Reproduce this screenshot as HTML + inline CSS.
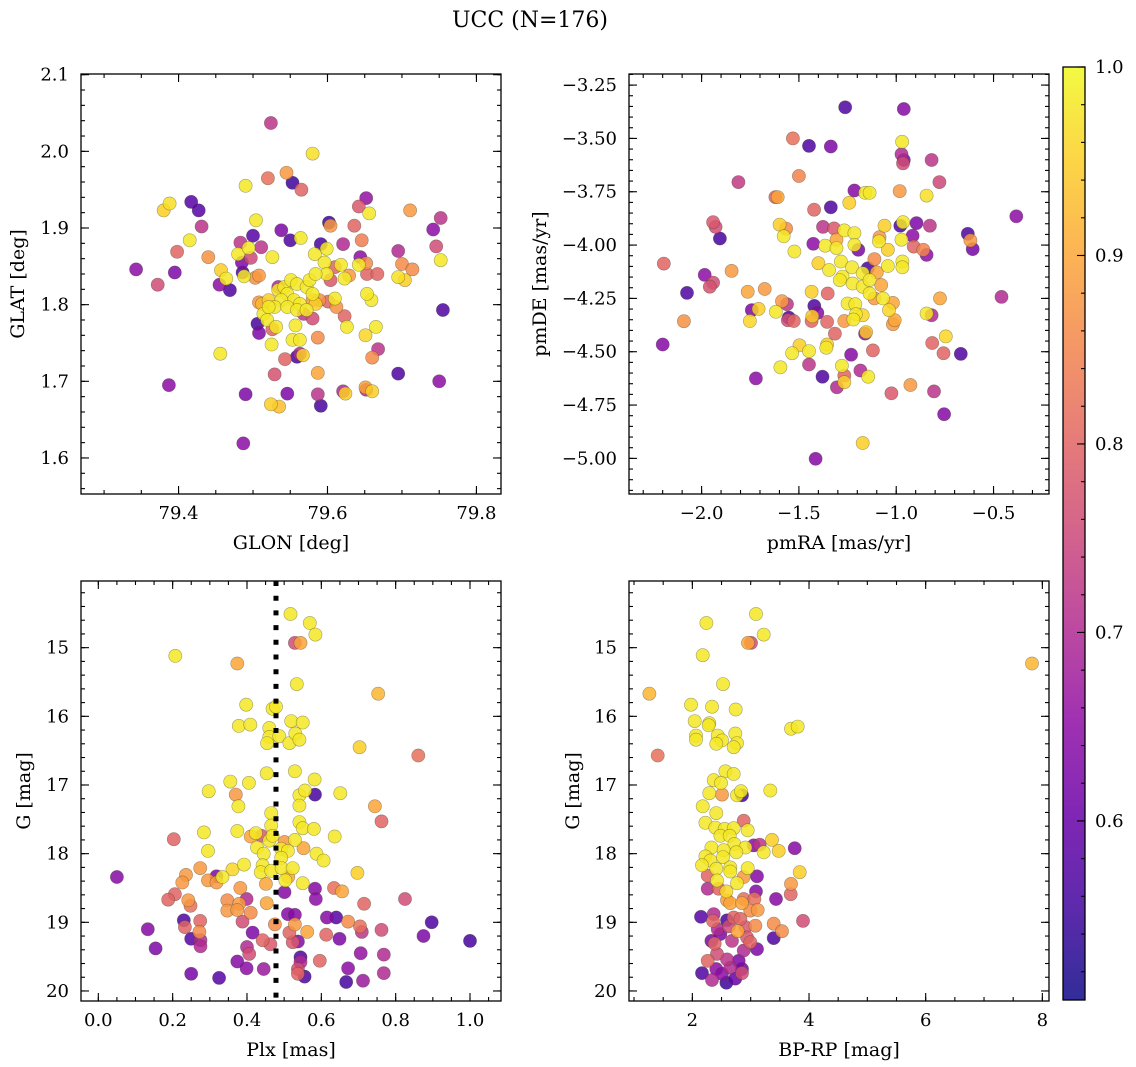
<!DOCTYPE html>
<html><head><meta charset="utf-8"><title>UCC (N=176)</title>
<style>
html,body{margin:0;padding:0;background:#fff;}
svg{display:block;font-family:"DejaVu Serif","Liberation Serif",serif;}
</style></head>
<body>
<svg id="fig" width="1136" height="1067" viewBox="0 0 1136 1067" xmlns="http://www.w3.org/2000/svg">
<text x="530" y="27" text-anchor="middle" font-size="22">UCC (N=176)</text>
</svg>
<script>
// ---------- Panel 1: GLON vs GLAT ----------
const p1Lon = [79.524,79.580,79.520,79.545,79.553,79.565,79.490,79.380,79.388,79.417,79.427,79.431,79.415,79.398,79.343,79.372,79.395,79.440,79.457,79.464,79.455,79.469,79.504,79.500,79.483,79.511,79.480,79.494,79.497,79.526,79.485,79.486,79.488,79.503,79.508,79.538,79.550,79.564,79.602,79.604,79.591,79.599,79.583,79.621,79.652,79.642,79.656,79.636,79.646,79.644,79.642,79.652,79.653,79.667,79.711,79.752,79.742,79.746,79.752,79.695,79.700,79.714,79.695,79.704,79.755,79.596,79.618,79.610,79.599,79.623,79.629,79.604,
79.534,79.542,79.551,79.559,79.546,79.555,79.563,79.538,79.572,79.580,79.584,79.529,79.546,79.559,79.572,79.521,79.512,79.508,79.514,79.521,79.576,79.584,79.580,79.589,79.568,79.580,79.534,
79.610,79.659,79.653,79.601,79.612,79.623,79.626,79.665,79.651,79.668,79.660,79.587,79.557,79.553,79.563,79.506,79.508,79.519,79.526,79.531,79.525,79.559,79.563,79.567,79.543,79.529,79.587,79.456,79.387,79.490,79.546,79.587,79.591,79.524,79.535,79.621,79.624,79.652,79.651,79.660,79.695,79.750,79.487];
const p1Lat = [2.037,1.997,1.965,1.972,1.959,1.950,1.955,1.923,1.932,1.934,1.923,1.902,1.884,1.869,1.846,1.826,1.842,1.862,1.845,1.834,1.826,1.819,1.910,1.890,1.881,1.875,1.866,1.874,1.861,1.862,1.855,1.842,1.837,1.835,1.838,1.897,1.884,1.887,1.907,1.903,1.879,1.873,1.866,1.879,1.939,1.928,1.919,1.903,1.884,1.862,1.852,1.854,1.840,1.840,1.923,1.913,1.898,1.876,1.858,1.870,1.853,1.846,1.836,1.832,1.793,1.855,1.852,1.849,1.840,1.834,1.838,1.832,
1.819,1.823,1.832,1.827,1.814,1.806,1.801,1.806,1.823,1.814,1.801,1.797,1.797,1.793,1.793,1.806,1.801,1.803,1.788,1.797,1.832,1.840,1.806,1.806,1.788,1.782,1.823,
1.808,1.806,1.814,1.804,1.797,1.785,1.771,1.771,1.760,1.742,1.731,1.757,1.773,1.754,1.754,1.775,1.763,1.780,1.768,1.771,1.748,1.732,1.736,1.734,1.729,1.709,1.711,1.736,1.695,1.683,1.684,1.683,1.668,1.670,1.667,1.687,1.684,1.689,1.692,1.687,1.710,1.700,1.619];
const p1Prob = [.72,.97,.82,.88,.55,.80,.98,.95,.97,.58,.58,.72,.98,.80,.65,.76,.63,.87,.95,.98,.65,.57,.98,.58,.72,.72,.98,.98,.75,.98,.63,.57,.98,.87,.88,.63,.57,.98,.55,.88,.56,.98,.98,.70,.66,.78,.98,.80,.84,.65,.98,.86,.80,.80,.88,.72,.65,.76,.98,.70,.86,.86,.97,.95,.57,.98,.98,.80,.98,.98,.88,.78,
.98,.98,.98,.98,.98,.98,.98,.98,.98,.98,.95,.98,.98,.98,.98,.95,.92,.88,.98,.98,.98,.98,.88,.87,.72,.76,.70,
.98,.98,.98,.80,.87,.80,.98,.98,.96,.72,.86,.86,.98,.98,.98,.56,.63,.98,.80,.98,.98,.56,.70,.95,.80,.77,.90,.98,.65,.63,.63,.72,.56,.95,.93,.70,.95,.70,.90,.95,.57,.65,.65];

// ---------- Panel 2: pmRA vs pmDE ----------
const p2Pmra = [-1.262,-0.961,-1.531,-1.448,-1.336,-0.970,-0.973,-0.961,-0.965,-0.818,-0.778,-1.500,-1.811,-1.621,-1.609,-1.215,-1.160,-1.137,-1.241,-1.422,-1.336,-0.982,-0.844,-0.383,-1.941,-1.928,-1.906,-2.194,-1.599,-1.566,-1.578,-1.523,-1.376,-1.319,-1.267,-1.215,-1.307,-1.426,-1.365,-1.307,-1.215,-1.195,-1.060,-0.979,-0.965,-0.896,-0.827,-0.916,-1.086,-1.089,-0.973,-0.910,-0.861,-0.844,-1.043,-0.632,-0.619,-0.607,-1.400,-1.345,-1.284,-1.227,-1.172,-1.146,-1.112,-1.100,-1.043,-0.968,-0.968,-1.276,-1.224,-1.172,-1.137,-1.077,-1.137,-1.112,-1.068,-1.017,-1.290,-1.352,-1.435,-0.775,-0.459,-1.984,-1.941,-1.958,-1.846,-2.075,-1.763,-1.676,-1.742,-1.707,-1.752,-1.618,-1.587,-1.561,-1.552,-1.557,-1.526,-1.421,-1.405,-1.431,-1.435,-1.355,-1.267,-1.250,-1.210,-1.207,-1.172,-1.220,-1.315,-1.037,-1.008,-1.017,-0.844,-0.818,-1.155,-1.160,-2.091,-2.200,-1.497,-1.535,-1.448,-1.355,-1.359,-1.232,-1.120,-0.815,-0.757,-0.745,-0.668,-1.595,-1.448,-1.279,-1.379,-1.267,-1.267,-1.305,-1.184,-1.144,-1.721,-0.927,-1.025,-0.806,-0.754,-1.172,-1.414];
const p2Pmde = [-3.354,-3.362,-3.500,-3.535,-3.538,-3.516,-3.574,-3.601,-3.617,-3.601,-3.705,-3.676,-3.705,-3.775,-3.775,-3.744,-3.755,-3.755,-3.802,-3.834,-3.823,-3.747,-3.768,-3.865,-3.893,-3.915,-3.969,-4.087,-3.904,-3.923,-3.959,-4.030,-3.915,-3.922,-3.931,-3.944,-3.975,-3.994,-4.003,-4.014,-3.999,-4.022,-3.909,-3.909,-3.893,-3.897,-3.909,-3.956,-3.963,-3.983,-3.975,-4.007,-4.022,-4.046,-4.022,-3.947,-3.978,-4.019,-4.085,-4.117,-4.077,-4.104,-4.132,-4.109,-4.066,-4.128,-4.098,-4.077,-4.104,-4.148,-4.180,-4.195,-4.164,-4.187,-4.227,-4.250,-4.250,-4.271,-4.164,-4.227,-4.219,-4.250,-4.243,-4.140,-4.176,-4.195,-4.121,-4.224,-4.219,-4.206,-4.305,-4.299,-4.356,-4.313,-4.263,-4.277,-4.340,-4.352,-4.356,-4.285,-4.318,-4.334,-4.356,-4.360,-4.356,-4.274,-4.277,-4.324,-4.329,-4.349,-4.415,-4.305,-4.352,-4.371,-4.321,-4.329,-4.408,-4.415,-4.357,-4.466,-4.470,-4.507,-4.497,-4.466,-4.481,-4.514,-4.494,-4.459,-4.507,-4.428,-4.510,-4.573,-4.560,-4.566,-4.617,-4.612,-4.643,-4.667,-4.588,-4.617,-4.625,-4.656,-4.695,-4.686,-4.793,-4.928,-5.002];
const p2Prob = [.57,.64,.82,.57,.63,.98,.70,.63,.76,.72,.75,.85,.73,.80,.90,.64,.98,.98,.95,.80,.57,.88,.97,.65,.78,.76,.56,.80,.95,.86,.98,.98,.72,.78,.98,.98,.90,.65,.98,.98,.98,.63,.95,.57,.98,.63,.72,.65,.88,.98,.98,.80,.85,.65,.95,.57,.88,.62,.95,.98,.98,.98,.98,.56,.86,.90,.98,.98,.98,.98,.98,.98,.98,.90,.98,.88,.98,.90,.98,.80,.95,.90,.70,.65,.76,.77,.88,.57,.90,.88,.63,.95,.96,.98,.88,.72,.57,.76,.80,.57,.64,.94,.80,.80,.88,.98,.98,.98,.96,.98,.80,.96,.90,.88,.98,.70,.94,.65,.87,.64,.95,.98,.98,.95,.98,.64,.80,.80,.80,.96,.57,.98,.72,.98,.57,.80,.95,.70,.70,.98,.65,.88,.78,.72,.64,.95,.64];

// ---------- Panel 3: Plx vs G ----------
const p3Plx = [0.517,0.569,0.584,0.529,0.544,0.207,0.374,0.534,0.753,0.398,0.469,0.478,0.378,0.409,0.460,0.519,0.550,0.460,0.454,0.487,0.514,0.530,0.541,0.703,0.861,0.453,0.529,0.582,0.355,0.405,0.297,0.370,0.377,0.541,0.556,0.541,0.583,0.651,0.744,0.762,0.465,0.465,0.541,0.550,0.580,0.284,0.374,0.203,0.410,0.424,0.439,0.460,0.469,0.501,0.529,0.427,0.445,0.492,0.510,0.552,0.295,0.636,0.587,0.606,0.492,0.442,0.392,0.361,0.334,0.437,0.465,0.493,0.523,0.511,0.503,0.697,0.274,0.236,0.226,0.295,0.318,0.318,0.050,0.451,0.550,0.382,0.501,0.583,0.585,0.634,0.656,0.206,0.188,0.242,0.248,0.347,0.379,0.399,0.347,0.374,0.410,0.453,0.715,0.825,0.510,0.529,0.615,0.640,0.672,0.704,0.709,0.762,0.897,0.875,1.000,0.230,0.233,0.274,0.272,0.133,0.154,0.250,0.275,0.275,0.388,0.415,0.475,0.514,0.529,0.562,0.442,0.463,0.523,0.537,0.613,0.649,0.400,0.406,0.374,0.399,0.445,0.544,0.544,0.537,0.537,0.555,0.596,0.706,0.768,0.672,0.768,0.712,0.667,0.250,0.325];
const p3G = [14.51,14.64,14.81,14.93,14.93,15.12,15.23,15.53,15.67,15.83,15.89,15.86,16.14,16.12,16.17,16.07,16.09,16.30,16.39,16.29,16.39,16.25,16.34,16.45,16.57,16.83,16.80,16.92,16.95,16.97,17.09,17.14,17.31,17.15,17.08,17.30,17.14,17.12,17.31,17.53,17.41,17.59,17.54,17.63,17.64,17.69,17.67,17.79,17.75,17.70,17.74,17.81,17.74,17.83,17.80,17.91,18.00,17.93,17.96,17.92,17.96,17.75,18.00,18.10,18.06,18.17,18.16,18.23,18.34,18.27,18.25,18.21,18.21,18.34,18.39,18.28,18.21,18.31,18.42,18.39,18.33,18.42,18.34,18.44,18.43,18.50,18.56,18.51,18.66,18.50,18.55,18.59,18.67,18.68,18.76,18.68,18.73,18.66,18.83,18.82,18.86,18.72,18.73,18.66,18.88,18.89,18.93,18.93,18.99,19.06,19.14,19.11,19.00,19.20,19.27,18.97,19.07,18.98,19.14,19.10,19.38,19.24,19.26,19.35,18.99,19.15,19.03,19.15,19.03,19.14,19.26,19.32,19.29,19.28,19.18,19.24,19.36,19.46,19.57,19.67,19.68,19.51,19.58,19.68,19.75,19.79,19.56,19.45,19.47,19.67,19.74,19.85,19.87,19.75,19.81];
const p3Prob = [.98,.98,.98,.76,.90,.98,.90,.98,.92,.98,.98,.98,.98,.98,.98,.98,.98,.98,.98,.98,.98,.98,.98,.95,.82,.98,.98,.98,.98,.98,.98,.88,.98,.98,.98,.98,.56,.98,.90,.80,.98,.98,.98,.98,.98,.98,.98,.80,.90,.98,.78,.98,.98,.88,.98,.98,.98,.98,.98,.90,.98,.98,.98,.98,.98,.98,.98,.96,.98,.98,.98,.98,.98,.90,.98,.95,.88,.88,.88,.88,.63,.88,.64,.90,.98,.88,.64,.64,.65,.82,.90,.80,.80,.88,.82,.86,.88,.70,.88,.88,.86,.90,.80,.76,.64,.64,.64,.58,.86,.82,.72,.76,.57,.63,.56,.57,.80,.80,.86,.64,.63,.58,.70,.70,.76,.63,.86,.80,.88,.90,.80,.78,.78,.64,.80,.63,.70,.76,.64,.65,.67,.57,.70,.76,.80,.57,.80,.66,.70,.65,.70,.67,.56,.62,.58];
const p3PlxLine = [0.478];

// ---------- Panel 4: BP-RP vs G ----------
const p4Bprp = [3.091,2.240,3.223,2.954,3.006,7.823,2.177,2.526,1.263,1.977,2.337,2.743,2.040,2.291,2.280,3.691,3.806,2.063,2.063,2.434,2.509,2.411,2.737,2.766,2.709,1.406,2.566,2.709,2.366,2.491,2.291,2.509,2.766,2.834,2.851,3.337,2.177,2.411,2.223,2.880,2.394,2.554,2.709,2.949,2.480,2.640,3.366,3.754,2.720,2.909,3.051,3.154,3.223,3.480,2.326,2.537,2.754,2.223,2.309,2.526,2.166,2.411,2.651,2.949,2.263,2.651,2.880,3.109,3.840,2.423,2.766,3.691,2.263,2.451,2.583,3.091,3.434,3.686,2.594,2.651,2.851,2.880,3.063,2.994,3.120,2.149,2.366,2.354,2.594,2.709,2.823,2.629,2.777,2.909,3.080,3.394,3.537,3.897,2.434,2.480,2.326,2.383,2.680,2.937,2.994,3.394,3.109,2.880,2.423,2.263,2.594,2.794,2.651,2.851,2.411,2.166,2.509,2.851,2.337,2.583,2.737];
const p4G = [14.51,14.64,14.81,14.93,14.93,15.23,15.11,15.53,15.67,15.83,15.86,15.90,16.07,16.10,16.13,16.18,16.15,16.28,16.34,16.28,16.35,16.40,16.25,16.39,16.45,16.57,16.80,16.84,16.93,16.97,17.12,17.14,17.15,17.09,17.15,17.08,17.31,17.41,17.55,17.52,17.62,17.64,17.63,17.66,17.74,17.74,17.80,17.92,17.86,17.91,17.88,17.87,17.98,17.96,17.91,17.95,17.98,18.04,18.10,18.05,18.17,18.22,18.20,18.21,18.32,18.26,18.34,18.33,18.27,18.39,18.43,18.44,18.51,18.51,18.55,18.55,18.66,18.59,18.68,18.72,18.72,18.66,18.66,18.83,18.82,18.92,18.88,18.98,18.97,18.93,18.95,19.06,19.13,19.07,19.05,19.02,19.13,18.98,19.10,19.17,19.27,19.31,19.27,19.22,19.29,19.23,19.39,19.41,19.46,19.56,19.54,19.56,19.66,19.68,19.68,19.74,19.75,19.74,19.84,19.88,19.82];
const p4Prob = [.98,.98,.98,.90,.76,.92,.98,.98,.92,.98,.98,.98,.98,.98,.98,.98,.98,.98,.98,.98,.98,.98,.98,.98,.98,.82,.98,.98,.98,.98,.98,.88,.98,.98,.56,.98,.98,.98,.98,.80,.98,.98,.98,.98,.98,.98,.95,.64,.98,.98,.65,.72,.98,.95,.98,.98,.98,.98,.98,.98,.98,.98,.98,.98,.80,.98,.88,.64,.95,.98,.98,.88,.70,.80,.96,.64,.64,.80,.88,.90,.90,.82,.82,.86,.88,.58,.70,.80,.56,.80,.80,.76,.90,.78,.86,.86,.86,.76,.70,.63,.63,.80,.72,.78,.80,.57,.63,.70,.76,.80,.72,.63,.70,.62,.65,.57,.65,.76,.70,.55,.60];

// ---------- Tick labels ----------
const p1XTicks = [79.4, 79.6, 79.8];
const p1YTicks = [1.6, 1.7, 1.8, 1.9, 2.0, 2.1];
const p2XTicks = [-2.0, -1.5, -1.0, -0.5];
const p2YTicks = [-5.0, -4.75, -4.5, -4.25, -4.0, -3.75, -3.5, -3.25];
const p3XTicks = [0.0, 0.2, 0.4, 0.6, 0.8, 1.0];
const gTicks = [15, 16, 17, 18, 19, 20];
const p4XTicks = [2, 4, 6, 8];
const cbTicks = [0.6, 0.7, 0.8, 0.9, 1.0];

const NS = "http://www.w3.org/2000/svg";
const svg = document.getElementById('fig');
const PMIN = 0.505, PMAX = 1.0;
const plasma = [[13,8,135],[65,4,157],[106,0,168],[143,13,164],[177,42,144],[204,71,120],[225,100,98],[242,132,75],[252,166,54],[252,206,37],[240,249,33]];
function cmap(p){
  let t = (p-PMIN)/(PMAX-PMIN); t = Math.max(0, Math.min(1, t));
  const f = t*10, i = Math.min(9, Math.floor(f)), u = f-i;
  const a = plasma[i], b = plasma[i+1];
  return 'rgb(' + [0,1,2].map(k => Math.round(a[k]+(b[k]-a[k])*u)).join(',') + ')';
}
function el(tag, attrs, parent){
  const e = document.createElementNS(NS, tag);
  for (const k in attrs) e.setAttribute(k, attrs[k]);
  (parent || svg).appendChild(e);
  return e;
}
function fmt(v, d){ const s = v.toFixed(d); return s.replace('-', '\u2212'); }

function panel(cfg){
  const g = el('g', {});
  
  
  const sx = v => cfg.x0 + (v - cfg.xmin)/(cfg.xmax - cfg.xmin)*cfg.w;
  const sy = v => cfg.y0 + (v - cfg.ytop)/(cfg.ybot - cfg.ytop)*cfg.h;
  const idx = cfg.xs.map((_, i) => i).sort((a, b) => cfg.ps[a] - cfg.ps[b]);
  const pts = el('g', {}, g);
  
  
  idx.forEach(i => {
    const c = el('circle', {cx: sx(cfg.xs[i]).toFixed(1), cy: sy(cfg.ys[i]).toFixed(1), r: 6.6, fill: cmap(cfg.ps[i]), 'fill-opacity': 0.85, stroke: 'rgba(60,60,40,0.45)', 'stroke-width': 0.6}, pts);
    
    
  });
  if (cfg.vline){
    cfg.vline.forEach(v => {
      const l = el('line', {x1: sx(v), x2: sx(v), y1: cfg.y0, y2: cfg.y0+cfg.h, stroke: '#000', 'stroke-width': 5, 'stroke-dasharray': '5 9.7'}, g);
      
      
    });
  }
  const tg = el('g', {stroke: '#000', 'stroke-width': 1.1}, g);
  
  
  const x1 = cfg.x0, x2 = cfg.x0+cfg.w, y1 = cfg.y0, y2 = cfg.y0+cfg.h;
  function xt(v, L){ const x = sx(v); if (x < x1-0.5 || x > x2+0.5) return;
    el('line', {x1: x, x2: x, y1: y2, y2: y2-L}, tg); el('line', {x1: x, x2: x, y1: y1, y2: y1+L}, tg); }
  function yt(v, L){ const y = sy(v); if (y < y1-0.5 || y > y2+0.5) return;
    el('line', {x1: x1, x2: x1+L, y1: y, y2: y}, tg); el('line', {x1: x2, x2: x2-L, y1: y, y2: y}, tg); }
  const xlo = Math.min(cfg.xmin, cfg.xmax), xhi = Math.max(cfg.xmin, cfg.xmax);
  for (let k = Math.ceil(xlo/cfg.xminor); k*cfg.xminor <= xhi; k++) xt(k*cfg.xminor, 4);
  const ylo = Math.min(cfg.ytop, cfg.ybot), yhi = Math.max(cfg.ytop, cfg.ybot);
  for (let k = Math.ceil(ylo/cfg.yminor); k*cfg.yminor <= yhi; k++) yt(k*cfg.yminor, 4);
  cfg.xticks.forEach(v => {
    xt(v, 8);
    const t = el('text', {x: sx(v), y: y2+25, 'text-anchor': 'middle', 'font-size': 18}, g);
    t.textContent = fmt(v, cfg.xdec);
    
    
  });
  cfg.yticks.forEach(v => {
    yt(v, 8);
    const t = el('text', {x: x1-12, y: sy(v)+6, 'text-anchor': 'end', 'font-size': 18}, g);
    t.textContent = fmt(v, cfg.ydec);
    
    
  });
  const fr = el('rect', {x: x1, y: y1, width: cfg.w, height: cfg.h, fill: 'none', stroke: '#000', 'stroke-width': 1.3}, g);
  
  
  const xl = el('text', {x: x1+cfg.w/2, y: y2+55, 'text-anchor': 'middle', 'font-size': 19}, g);
  xl.textContent = cfg.xlabel;
  
  
  const yl = el('text', {x: 0, y: 0, 'text-anchor': 'middle', 'font-size': 19, transform: 'translate(' + cfg.ylx + ',' + (y1+cfg.h/2) + ') rotate(-90)'}, g);
  yl.textContent = cfg.ylabel;
  
  
}

panel({name: 'glon-glat-panel', x0: 81, y0: 74, w: 420, h: 420, xmin: 79.269, xmax: 79.833, ytop: 2.1009, ybot: 1.553,
  xs: p1Lon, ys: p1Lat, ps: p1Prob, xticks: p1XTicks, yticks: p1YTicks, xminor: 0.05, yminor: 0.02, xdec: 1, ydec: 1,
  xlabel: 'GLON [deg]', ylabel: 'GLAT [deg]', ylx: 24});
panel({name: 'pm-panel', x0: 629, y0: 74, w: 420, h: 420, xmin: -2.373, xmax: -0.215, ytop: -3.198, ybot: -5.167,
  xs: p2Pmra, ys: p2Pmde, ps: p2Prob, xticks: p2XTicks, yticks: p2YTicks, xminor: 0.1, yminor: 0.05, xdec: 1, ydec: 2,
  xlabel: 'pmRA [mas/yr]', ylabel: 'pmDE [mas/yr]', ylx: 546});
panel({name: 'plx-g-panel', x0: 81, y0: 581, w: 420, h: 420, xmin: -0.0466, xmax: 1.0834, ytop: 14.029, ybot: 20.146,
  xs: p3Plx, ys: p3G, ps: p3Prob, xticks: p3XTicks, yticks: gTicks, xminor: 0.05, yminor: 0.2, xdec: 1, ydec: 0,
  xlabel: 'Plx [mas]', ylabel: 'G [mag]', ylx: 30, vline: p3PlxLine});
panel({name: 'cmd-panel', x0: 629, y0: 581, w: 420, h: 420, xmin: 0.914, xmax: 8.114, ytop: 14.029, ybot: 20.146,
  xs: p4Bprp, ys: p4G, ps: p4Prob, xticks: p4XTicks, yticks: gTicks, xminor: 0.5, yminor: 0.2, xdec: 0, ydec: 0,
  xlabel: 'BP-RP [mag]', ylabel: 'G [mag]', ylx: 579});

// ---------- Colorbar ----------
(function(){
  const cx = 1063, cy = 67, cw = 22, ch = 933;
  const sc = v => cy + (PMAX - v)/(PMAX - PMIN)*ch;
  const defs = el('defs', {});
  const lg = el('linearGradient', {id: 'cbgrad', x1: 0, y1: 1, x2: 0, y2: 0}, defs);
  for (let i = 0; i <= 20; i++){
    const p = PMIN + (PMAX-PMIN)*i/20;
    el('stop', {offset: (i/20), 'stop-color': cmap(p), 'stop-opacity': 0.85}, lg);
  }
  const g = el('g', {});
  
  
  el('rect', {x: cx, y: cy, width: cw, height: ch, fill: 'url(#cbgrad)', stroke: '#000', 'stroke-width': 1.3}, g);
  for (let k = Math.ceil(PMIN/0.02); k*0.02 <= PMAX+1e-9; k++){
    const y = sc(k*0.02);
    el('line', {x1: cx+cw, x2: cx+cw-4, y1: y, y2: y, stroke: '#000', 'stroke-width': 1.1}, g);
  }
  cbTicks.forEach(v => {
    const y = sc(v);
    el('line', {x1: cx+cw, x2: cx+cw-8, y1: y, y2: y, stroke: '#000', 'stroke-width': 1.1}, g);
    const t = el('text', {x: cx+cw+10, y: y+6, 'font-size': 18}, g);
    t.textContent = v.toFixed(1);
    
    
  });
})();
</script>
</body></html>
